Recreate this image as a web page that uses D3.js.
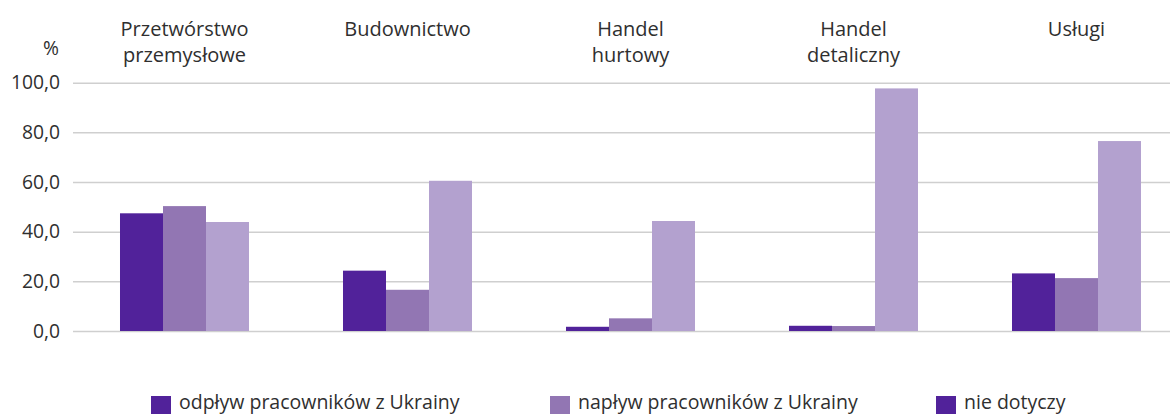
<!DOCTYPE html>
<html>
<head>
<meta charset="utf-8">
<script src="https://cdn.jsdelivr.net/npm/d3@7"></script>
<style>
  html, body { margin: 0; padding: 0; background: #fff; }
  svg { display: block; }
  text { font-family: "Open Sans", "Noto Sans", sans-serif; fill: #2f2f2f; }
</style>
</head>
<body>
<svg id="chart" width="1170" height="414"></svg>
<script>
// ---- data ----
const categories = ["Przetwórstwo przemysłowe", "Budownictwo", "Handel hurtowy", "Handel detaliczny", "Usługi"];
const categoryLines = [["Przetwórstwo", "przemysłowe"], ["Budownictwo"], ["Handel", "hurtowy"], ["Handel", "detaliczny"], ["Usługi"]];
const seriesNames = ["s1", "s2", "s3"];
const series1 = [47.4, 24.3, 1.7, 2.1, 23.2];
const series2 = [50.3, 16.6, 5.1, 2.0, 21.3];
const series3 = [43.9, 60.5, 44.3, 97.7, 76.5];
const yTicks = [0, 20, 40, 60, 80, 100];
const legendLabels = ["odpływ pracowników z Ukrainy", "napływ pracowników z Ukrainy", "nie dotyczy"];
const seriesColors = ["#51229a", "#9276b3", "#b3a1cf"];
const legendColors = ["#51229a", "#9276b3", "#51229a"];

const seriesValues = [series1, series2, series3];

const svg = d3.select("#chart");
const W = 1170;
const left = 73, right = 1188, y0 = 331, y100 = 82.7;

const x0 = d3.scaleBand().domain(categories).range([left, right])
  .paddingInner(0.4215).paddingOuter(0.4215 / 2);
const x1 = d3.scaleBand().domain(seriesNames).range([0, x0.bandwidth()]);
const y = d3.scaleLinear().domain([0, 100]).range([y0, y100]);

const fmt = d3.formatLocale({ decimal: ",", thousands: " ", grouping: [3], currency: ["", ""] }).format(".1f");

// gridlines + y labels
const yAxis = d3.axisLeft(y).tickValues(yTicks).tickFormat(fmt)
  .tickSizeInner(-(W - left)).tickSizeOuter(0).tickPadding(13);
const gy = svg.append("g").attr("transform", `translate(${left},0)`).call(yAxis);
gy.select(".domain").remove();
gy.selectAll(".tick line").attr("stroke", "#cfcfcf").attr("stroke-width", 1.5);
gy.selectAll(".tick text").attr("font-size", 19.3).attr("fill", "#2f2f2f")
  .style("font-family", '"Open Sans", "Noto Sans", sans-serif');

// % label
svg.append("text").attr("x", 51).attr("y", 55).attr("text-anchor", "middle")
  .attr("font-size", 19.3).text("%");

// bars
const groups = svg.append("g").selectAll("g").data(categories).join("g")
  .attr("transform", d => `translate(${x0(d)},0)`);
groups.selectAll("rect")
  .data((d, i) => seriesNames.map((s, j) => ({ s, j, v: seriesValues[j][i] })))
  .join("rect")
  .attr("x", d => x1(d.s))
  .attr("width", x1.bandwidth())
  .attr("y", d => y(d.v))
  .attr("height", d => y0 - y(d.v))
  .attr("fill", d => seriesColors[d.j]);

// category labels
const lab = svg.append("g").selectAll("text").data(categories).join("text")
  .attr("text-anchor", "middle").attr("font-size", 20)
  .attr("x", d => x0(d) + x0.bandwidth() / 2);
lab.each(function(d, i) {
  const t = d3.select(this);
  categoryLines[i].forEach((line, k) => {
    t.append("tspan").attr("x", x0(d) + x0.bandwidth() / 2).attr("y", 36 + k * 26).text(line);
  });
});

// legend
const legendX = [151, 550, 936];
const lg = svg.append("g").selectAll("g").data(legendLabels).join("g")
  .attr("transform", (d, i) => `translate(${legendX[i]},0)`);
lg.append("rect").attr("x", 0).attr("y", 396).attr("width", 20).attr("height", 18)
  .attr("fill", (d, i) => legendColors[i]);
lg.append("text").attr("x", 28).attr("y", 408.5).attr("font-size", 19.5).text(d => d);
</script>
</body>
</html>
